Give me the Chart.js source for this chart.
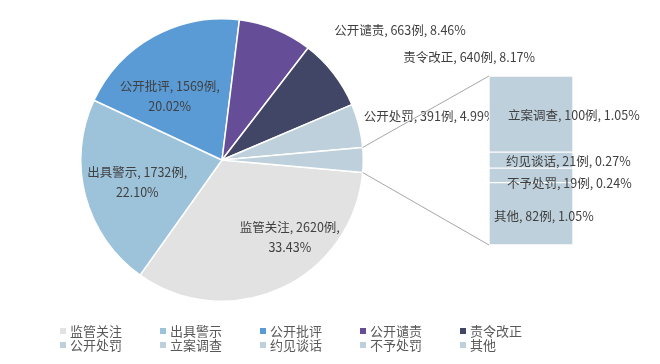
<!DOCTYPE html>
<html lang="zh">
<head>
    <meta charset="UTF-8">
    <title>处罚类型分布</title>
    <script src="https://cdn.jsdelivr.net/npm/chart.js"></script>
    <style>
        body {
            margin: 0;
            background: #ffffff;
            font-family: 'Noto Sans CJK SC', 'Noto Sans', sans-serif;
        }
        .wrap {
            position: relative;
            width: 660px;
            height: 364px;
        }
        .wrap canvas {
            position: absolute;
            left: 0;
            top: 0;
        }
        .legend {
            position: absolute;
            left: 60px;
            top: 324px;
            display: grid;
            grid-template-columns: repeat(5, 100px);
            font-size: 13px;
            line-height: 13.5px;
            color: #595959;
        }
        .legend span {
            display: inline-block;
            width: 6px;
            height: 6px;
            margin-right: 4px;
            vertical-align: 2px;
        }
    </style>
</head>
<body>
<div class="wrap">
    <canvas id="pieChart" width="660" height="364"></canvas>
    <canvas id="barChart" width="660" height="364"></canvas>
    <div class="legend" id="legend"></div>
</div>

<script>
    // main pie categories
    const pieNames = ['监管关注', '出具警示', '公开批评', '公开谴责', '责令改正', '公开处罚'];
    const pieCounts = [2620, 1732, 1569, 663, 640, 391];
    const piePcts = ['33.43%', '22.10%', '20.02%', '8.46%', '8.17%', '4.99%'];

    // secondary bar (top to bottom)
    const subNames = ['立案调查', '约见谈话', '不予处罚', '其他'];
    const subCounts = [100, 21, 19, 82];
    const subPcts = ['1.05%', '0.27%', '0.24%', '1.05%'];

    const pieColors = ['#e2e2e2', '#9dc3db', '#5b9bd5', '#664d98', '#414666', '#bed0db'];
    const subColor = '#bed0db';

    const subTotal = subCounts.reduce((a, b) => a + b, 0);
    const total = pieCounts.reduce((a, b) => a + b, 0) + subTotal;

    // label placement, relative to pie center in units of radius
    const pieLabelPos = [[0.48, 0.55], [-0.6, 0.16], [-0.37, -0.45], [1.26, -0.92], [1.75, -0.73], [1.47, -0.31]];
    const twoLine = [true, true, true, false, false, false];
    // bar label offsets: [x from bar left, y from segment middle]
    const subLabelOff = [[19, 1], [17, 1], [18, 8], [5, 2.5]];

    const labelFont = '12.5px "Noto Sans CJK SC", sans-serif';
    const labelColor = '#404040';

    const pieLabelsPlugin = {
        id: 'pieLabels',
        afterDatasetsDraw(chart) {
            const ctx = chart.ctx;
            const arc = chart.getDatasetMeta(0).data[0];
            const r = arc.outerRadius;
            ctx.save();
            ctx.font = labelFont;
            ctx.fillStyle = labelColor;
            ctx.textAlign = 'center';
            ctx.textBaseline = 'middle';
            pieNames.forEach((name, i) => {
                const x = arc.x + pieLabelPos[i][0] * r;
                const y = arc.y + pieLabelPos[i][1] * r;
                if (twoLine[i]) {
                    ctx.fillText(`${name}, ${pieCounts[i]}例,`, x, y - 10);
                    ctx.fillText(piePcts[i], x, y + 10);
                } else {
                    ctx.fillText(`${name}, ${pieCounts[i]}例, ${piePcts[i]}`, x, y);
                }
            });
            ctx.restore();
        }
    };

    const otherFrac = subTotal / total;
    const pieChart = new Chart(document.getElementById('pieChart'), {
        type: 'pie',
        data: {
            labels: [...pieNames, '其他合计'],
            datasets: [{
                data: [...pieCounts, subTotal],
                backgroundColor: [...pieColors, subColor],
                borderColor: '#ffffff',
                borderWidth: 1.5
            }]
        },
        options: {
            responsive: false,
            animation: false,
            rotation: 90 + otherFrac * 180,
            layout: { padding: { left: 80, top: 18, right: 296, bottom: 62 } },
            plugins: { legend: { display: false }, tooltip: { enabled: false } }
        },
        plugins: [pieLabelsPlugin]
    });

    const barExtrasPlugin = {
        id: 'barExtras',
        afterDatasetsDraw(chart) {
            const ctx = chart.ctx;
            const n = subNames.length;
            // dataset index 0 is the bottom segment
            const topEl = chart.getDatasetMeta(n - 1).data[0];
            const botEl = chart.getDatasetMeta(0).data[0];
            const left = topEl.x - topEl.width / 2;

            // connector lines from the pie slice to the bar
            const otherArc = pieChart.getDatasetMeta(0).data[pieNames.length];
            const R = otherArc.outerRadius;
            ctx.save();
            ctx.strokeStyle = '#a6a6a6';
            ctx.lineWidth = 1;
            ctx.beginPath();
            ctx.moveTo(otherArc.x + R * Math.cos(otherArc.startAngle), otherArc.y + R * Math.sin(otherArc.startAngle));
            ctx.lineTo(left, topEl.y);
            ctx.moveTo(otherArc.x + R * Math.cos(otherArc.endAngle), otherArc.y + R * Math.sin(otherArc.endAngle));
            ctx.lineTo(left, botEl.base);
            ctx.stroke();

            ctx.font = labelFont;
            ctx.fillStyle = labelColor;
            ctx.textAlign = 'left';
            ctx.textBaseline = 'middle';
            subNames.forEach((name, i) => {
                const el = chart.getDatasetMeta(n - 1 - i).data[0];
                const mid = (el.y + el.base) / 2;
                ctx.fillText(`${name}, ${subCounts[i]}例, ${subPcts[i]}`, left + subLabelOff[i][0], mid + subLabelOff[i][1]);
            });
            ctx.restore();
        }
    };

    new Chart(document.getElementById('barChart'), {
        type: 'bar',
        data: {
            labels: ['其他'],
            datasets: subNames.map((name, i) => ({
                label: name,
                data: [subCounts[i]],
                backgroundColor: subColor,
                borderColor: '#ffffff',
                borderWidth: 1,
                borderSkipped: false,
                barPercentage: 1,
                categoryPercentage: 1
            })).reverse()
        },
        options: {
            responsive: false,
            animation: false,
            layout: { padding: { left: 489, right: 87, top: 76, bottom: 119 } },
            scales: {
                x: { stacked: true, display: false },
                y: { stacked: true, display: false, min: 0, max: subTotal }
            },
            plugins: { legend: { display: false }, tooltip: { enabled: false } }
        },
        plugins: [barExtrasPlugin]
    });

    // legend, same order as the source
    const legendNames = [...pieNames, ...subNames];
    const legendColors = [...pieColors, subColor, subColor, subColor, subColor];
    document.getElementById('legend').innerHTML = legendNames
        .map((n, i) => `<div><span style="background:${legendColors[i]}"></span>${n}</div>`)
        .join('');
</script>
</body>
</html>
